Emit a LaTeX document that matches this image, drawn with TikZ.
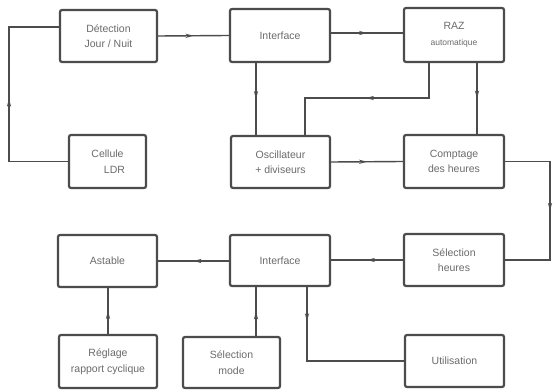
\documentclass[tikz,border=0pt]{standalone}
\usepackage{fontspec}
\setmainfont{Liberation Sans}
\usetikzlibrary{decorations.markings,arrows.meta}
\definecolor{ink}{gray}{0.30}
\definecolor{txt}{gray}{0.42}
\tikzset{
  box/.style={draw=ink, line width=2.2pt, rounded corners=2pt, fill=white,
    text=txt, align=center, inner sep=1pt,
    font=\fontsize{10.5}{15.5}\selectfont},
  conn/.style={draw=ink, line width=1.4pt},
  midarr/.style={postaction={decorate}, decoration={markings,
    mark=at position #1 with {\arrow[ink]{Stealth[length=8pt,width=4.2pt]}}}}
}
\begin{document}
\begin{tikzpicture}[x=1pt,y=-1pt]
\useasboundingbox[fill=white] (0,0) rectangle (554,390);
% boxes
\node[box, minimum width=97pt, minimum height=52pt] (det) at (108.5,36) {Détection\\Jour / Nuit};
\node[box, minimum width=100pt, minimum height=53pt] (if1) at (280,35.5) {Interface};
\node[box, minimum width=100pt, minimum height=54pt] (raz) at (454,35) {RAZ\\{\fontsize{8.5}{10}\selectfont automatique}};
\node[box, minimum width=77pt, minimum height=53pt] (cel) at (107.5,161.5) {Cellule\\\hspace*{14pt}LDR};
\node[box, minimum width=99pt, minimum height=52pt] (osc) at (280.5,162) {Oscillateur\\+ diviseurs};
\node[box, minimum width=100pt, minimum height=53pt] (cpt) at (454,161.5) {Comptage\\des heures};
\node[box, minimum width=100pt, minimum height=52pt] (sel) at (454,260) {Sélection\\heures};
\node[box, minimum width=100pt, minimum height=51pt] (if2) at (280,260.5) {Interface};
\node[box, minimum width=99pt, minimum height=52pt] (ast) at (107.5,261) {Astable};
\node[box, minimum width=98pt, minimum height=53pt] (reg) at (108,361.5) {Réglage\\rapport cyclique};
\node[box, minimum width=97pt, minimum height=51pt] (mod) at (231.5,362.5) {Sélection\\mode};
\node[box, minimum width=99pt, minimum height=52pt] (uti) at (454.5,361) {Utilisation};
% helper coordinates
\coordinate (lx) at (9,0);
\coordinate (ox) at (256,0);
\coordinate (rx) at (429,0);
\coordinate (ry) at (0,98);
\coordinate (px) at (305,0);
\coordinate (cx) at (477,0);
\coordinate (ex) at (550,0);
\coordinate (ux) at (307,0);
\coordinate (ax) at (108,0);
% connectors
\draw[conn, midarr=0.5] (cel.west) -- (cel.west -| lx) -- (lx |- 0,27) -- (det.west |- 0,27);
\draw[conn, midarr=0.5] (det.east) -- (if1.west);
\draw[conn, midarr=0.5] (if1.east |- 0,33) -- (raz.west |- 0,33);
\draw[conn, midarr=0.5] (if1.south -| ox) -- (osc.north -| ox);
\draw[conn, midarr=0.5] (raz.south -| rx) -- (rx |- ry) -- (px |- ry) -- (osc.north -| px);
\draw[conn, midarr=0.5] (raz.south -| cx) -- (cpt.north -| cx);
\draw[conn, midarr=0.5] (osc.east) -- (cpt.west);
\draw[conn, midarr=0.5] (cpt.east) -- (cpt.east -| ex) -- (ex |- sel.east) -- (sel.east);
\draw[conn, midarr=0.5] (sel.west) -- (if2.east |- sel.west);
\draw[conn, midarr=0.5] (if2.west |- ast.east) -- (ast.east);
\draw[conn, midarr=0.5] (reg.north -| ax) -- (ast.south -| ax);
\draw[conn, midarr=0.5] (mod.north -| ox) -- (if2.south -| ox);
\draw[conn, midarr=0.2] (if2.south -| ux) -- (ux |- uti.west) -- (uti.west);
\end{tikzpicture}
\end{document}
